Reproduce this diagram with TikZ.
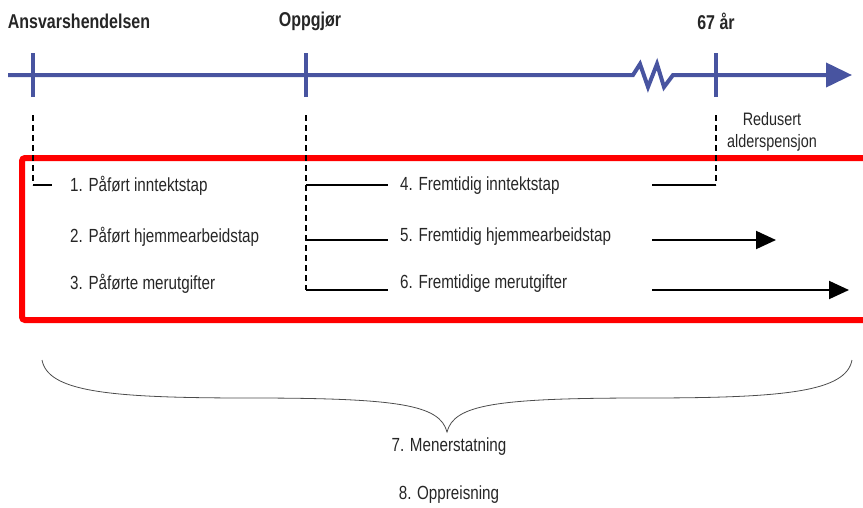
\documentclass[tikz,border=0pt]{standalone}
\usepackage{fontspec}
\setmainfont{Liberation Sans}[FakeStretch=0.80]
\usepackage{xcolor}
\usetikzlibrary{arrows.meta,positioning}
\definecolor{axisblue}{RGB}{72,84,160}
\definecolor{boxred}{RGB}{255,0,0}

\begin{document}
\begin{tikzpicture}[
    x=1pt, y=-1pt,
    title/.style={font=\fontsize{20}{24}\selectfont\bfseries, text=black!85},
    item/.style={font=\fontsize{19}{22}\selectfont, text=black!85, anchor=west, inner sep=0pt},
    axis/.style={axisblue, line width=4pt},
    tick/.style={axisblue, line width=4pt},
    guide/.style={line width=2.5pt, dash pattern=on 6pt off 4pt},
    link/.style={line width=2pt},
    arrow/.style={line width=2pt, -{Triangle[length=20pt,width=18pt]}}
]
\useasboundingbox (0,0) rectangle (863,507);

% timeline
\coordinate (start) at (8,75);
\coordinate (t1) at (33,75);
\coordinate (t2) at (306,75);
\coordinate (t3) at (716,75);
\coordinate (end) at (852,75);
\draw[axis, line join=miter, -{Triangle[length=26pt,width=24pt]}] (start) -- (633,75) -- (640,64) -- (648,87) -- (657,64) -- (664,87) -- (673,75) -- (end);
\foreach \t in {t1,t2,t3}
    \draw[tick] ([yshift=-22]\t) -- ([yshift=22]\t);

\node[title] (event) at (79,21) {Ansvarshendelsen};
\node[title] (settle) at (310,21) {Oppgjør};
\node[title] (age) at (716,21) {67 år};

% red frame
\draw[boxred, line width=6pt, rounded corners=3pt] (22,158) rectangle (890,320);

% items
\node[item] (i1) at (70,186) {1. Påført inntektstap};
\node[item] (i2) at (70,237) {2. Påført hjemmearbeidstap};
\node[item] (i3) at (70,284) {3. Påførte merutgifter};
\node[item] (i4) at (400,186) {4. Fremtidig inntektstap};
\node[item] (i5) at (400,237) {5. Fremtidig hjemmearbeidstap};
\node[item] (i6) at (400,284) {6. Fremtidige merutgifter};

\node[item, anchor=center, align=center, font=\fontsize{18}{22}\selectfont] (pension) at (772,132) {Redusert\\alderspensjon};

% guides
\coordinate (g1) at (33,185);
\coordinate (g4) at (306,185);
\coordinate (g5) at (306,240);
\coordinate (g6) at (306,290);
\coordinate (g7) at (716,185);
\draw[guide] (33,115) -- (g1);
\draw[guide] (306,115) -- (g6);
\draw[guide] (716,115) -- (g7);
\draw[link] (g1) -- (52,185);
\draw[link] (g4) -- (388,185);
\draw[link] (g5) -- (388,240);
\draw[link] (g6) -- (388,290);
\draw[link] (652,185) -- (g7);
\draw[arrow] (652,240) -- (776,240);
\draw[arrow] (652,290) -- (849,290);

% brace
\coordinate (tip) at (447,432);
\draw[line width=0.8pt, black!70] (42,360) .. controls (48,392) and (110,398) .. (250,398)
    .. controls (400,398) and (440,405) .. (tip)
    .. controls (454,405) and (494,398) .. (644,398)
    .. controls (784,398) and (846,392) .. (852,360);

\node[item, anchor=center] (i7) at (449,447) {7. Menerstatning};
\node[item, anchor=center] (i8) at (449,495) {8. Oppreisning};
\end{tikzpicture}
\end{document}
